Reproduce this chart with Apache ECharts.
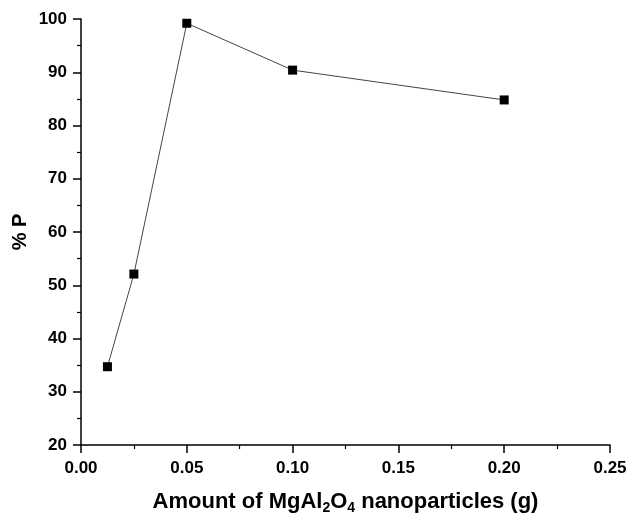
<!DOCTYPE html>
<html>
<head>
<meta charset="utf-8">
<script src="https://cdn.jsdelivr.net/npm/echarts@6/dist/echarts.min.js"></script>
<style>
  html, body { margin: 0; padding: 0; background: #fff; }
  #main { width: 629px; height: 513px; }
</style>
</head>
<body>
<div id="main"></div>
<script>
// amount of MgAl2O4 (g) vs %P
const amounts = [0.0125, 0.025, 0.05, 0.1, 0.2]
const percentP = [34.7, 52.1, 99.2, 90.4, 84.8]

const chart = echarts.init(document.getElementById('main'))
const font = 'Liberation Sans, Arial, sans-serif'

chart.setOption({
    animation: false,
    grid: { left: 81, right: 19, top: 19, bottom: 68, outerBoundsMode: 'none' },
    xAxis: {
        type: 'value',
        min: 0, max: 0.25, interval: 0.05,
        name: '{a|Amount of MgAl}{s|2}{a|O}{s|4}{a| nanoparticles (g)}',
        nameLocation: 'middle',
        nameGap: 43,
        nameTextStyle: {
            rich: {
                a: { fontSize: 22, fontWeight: 'bold', fontFamily: font, color: '#000', lineHeight: 27 },
                s: { fontSize: 14, fontWeight: 'bold', fontFamily: font, color: '#000', lineHeight: 8, verticalAlign: 'bottom' }
            }
        },
        axisLine: { lineStyle: { color: '#000', width: 1.5 } },
        axisTick: { inside: false, length: 8, lineStyle: { color: '#000', width: 1.5 } },
        minorTick: { show: true, splitNumber: 2, length: 4, lineStyle: { color: '#000', width: 1.2 } },
        splitLine: { show: false },
        axisLabel: {
            color: '#000', fontSize: 17, fontWeight: 'bold', fontFamily: font, margin: 15,
            formatter: v => v.toFixed(2)
        }
    },
    yAxis: {
        type: 'value',
        min: 20, max: 100, interval: 10,
        name: '% P',
        nameLocation: 'middle',
        nameGap: 51,
        nameMoveOverlap: false,
        nameTextStyle: { fontSize: 20, fontWeight: 'bold', fontFamily: font, color: '#000' },
        axisLine: { show: true, lineStyle: { color: '#000', width: 1.5 } },
        axisTick: { show: true, inside: false, length: 8, lineStyle: { color: '#000', width: 1.5 } },
        minorTick: { show: true, splitNumber: 2, length: 4, lineStyle: { color: '#000', width: 1.2 } },
        splitLine: { show: false },
        axisLabel: { color: '#000', fontSize: 17, fontWeight: 'bold', fontFamily: font, margin: 14 }
    },
    series: [{
        type: 'line',
        data: amounts.map((x, i) => [x, percentP[i]]),
        symbol: 'rect',
        symbolSize: 9,
        itemStyle: { color: '#000' },
        lineStyle: { color: '#444', width: 1 }
    }]
})
</script>
</body>
</html>
